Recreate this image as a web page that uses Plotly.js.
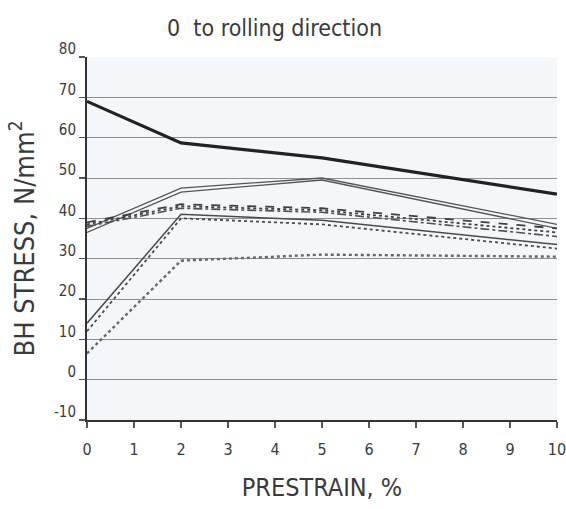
<!DOCTYPE html>
<html>
<head>
<meta charset="utf-8">
<script src="https://cdn.plot.ly/plotly-3.0.1.min.js"></script>
<style>
  html, body { margin: 0; padding: 0; background: #ffffff; }
  #chart { width: 566px; height: 509px; }
</style>
</head>
<body>
<div id="chart"></div>
<script>
// Prestrain levels, %
const prestrain = [0, 2, 5, 10];

// BH stress, N/mm², one array per curve
const curveThick   = [69, 58.7, 55, 46];
const curveUpperA  = [37.5, 47.5, 50, 38.5];
const curveUpperB  = [36.5, 46.5, 49.5, 37.5];
const curveMidA    = [39, 43.5, 42.5, 37.5];
const curveMidB    = [38.5, 43, 42, 36.5];
const curveMidC    = [38, 42.5, 41.5, 35.5];
const curveLowA    = [14, 41, 39.5, 33.5];
const curveLowB    = [12, 40, 38.5, 32.5];
const curveDotted  = [6.5, 29.5, 31, 30.5];

const xTicks = [0, 1, 2, 3, 4, 5, 6, 7, 8, 9, 10];
const yTicks = [-10, 0, 10, 20, 30, 40, 50, 60, 70, 80];

const FONT = '"DejaVu Sans Condensed", "Liberation Sans Narrow", "Liberation Sans", sans-serif';

function line(y, color, width, dash) {
  return {
    x: prestrain, y: y, type: 'scatter', mode: 'lines',
    line: { color: color, width: width, dash: dash },
    hoverinfo: 'skip', showlegend: false
  };
}

const traces = [
  line(curveUpperA, '#555555', 1.3, 'solid'),
  line(curveUpperB, '#555555', 1.3, 'solid'),
  line(curveMidA,   '#404040', 1.8, 'dash'),
  line(curveMidB,   '#404040', 1.8, 'dot'),
  line(curveMidC,   '#505050', 1.6, 'dashdot'),
  line(curveLowA,   '#4a4a4a', 1.5, 'solid'),
  line(curveLowB,   '#4a4a4a', 1.8, 'dot'),
  line(curveDotted, '#666666', 2.4, 'dot'),
  line(curveThick,  '#222222', 3.2, 'solid')
];

const layout = {
  width: 566, height: 509,
  margin: { l: 87, r: 9, t: 57, b: 89 },
  paper_bgcolor: '#ffffff',
  plot_bgcolor: '#f4f7fa',
  font: { family: FONT, color: '#3a3a3a' },
  title: {
    text: '0  to rolling direction',
    font: { family: FONT, size: 23, color: '#3a3a3a' },
    x: 0.485, xanchor: 'center', y: 0.945, yanchor: 'middle'
  },
  xaxis: {
    range: [0, 10], tickvals: xTicks, ticktext: xTicks.map(String),
    showgrid: false, zeroline: false,
    showline: true, linecolor: '#333333', linewidth: 2,
    ticks: 'outside', ticklen: 6, tickwidth: 1.2, tickcolor: '#555555',
    ticklabelstandoff: 8, ticklabeloverflow: 'allow',
    tickfont: { family: FONT, size: 16, color: '#3a3a3a' },
    title: { text: 'PRESTRAIN, %', font: { family: FONT, size: 25, color: '#3a3a3a' }, standoff: 20 },
    fixedrange: true
  },
  yaxis: {
    range: [-10, 80], tickvals: yTicks, ticktext: yTicks.map(String),
    showgrid: true, gridcolor: '#8f8f8f', gridwidth: 1, zeroline: false,
    showline: true, linecolor: '#333333', linewidth: 2,
    ticks: 'outside', ticklen: 6, tickwidth: 1.2, tickcolor: '#555555',
    tickfont: { family: FONT, size: 15, color: '#3a3a3a' },
    ticklabelshift: -8,
    title: { text: 'BH STRESS, N/mm<sup>2</sup>', font: { family: FONT, size: 27, color: '#3a3a3a' }, standoff: 12 },
    fixedrange: true
  },
  showlegend: false
};

Plotly.newPlot('chart', traces, layout, { staticPlot: true, displayModeBar: false });
</script>
</body>
</html>
